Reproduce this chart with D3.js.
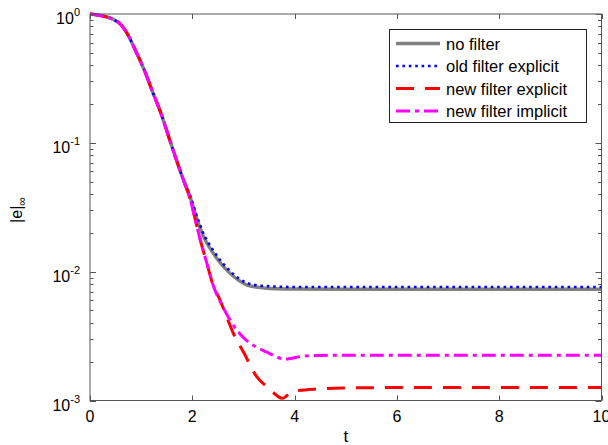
<!DOCTYPE html>
<html><head><meta charset="utf-8">
<script src="https://cdn.jsdelivr.net/npm/d3@7"></script>
<style>body{margin:0;background:#fff}svg{display:block}text{font-family:"Liberation Sans",Arial,sans-serif;fill:#000}</style>
</head><body>
<svg id="c" width="608" height="445"></svg>
<script>
// ---- data ----
const seriesNames = ["no filter", "old filter explicit", "new filter explicit", "new filter implicit"];
const tNoFilter = [0,0.2,0.45,0.6,0.75,0.9,1.075,1.21,1.4,1.56,1.69,1.83,1.955,2.1,2.22,2.41,2.58,2.74,2.9,3.06,3.3,3.52,4,5,6,7,8,9,10];
const eNoFilter = [1,0.975,0.91,0.83,0.68,0.51,0.356,0.257,0.164,0.105,0.0735,0.051,0.0382,0.025,0.0187,0.0139,0.0113,0.0097,0.0086,0.0079,0.00755,0.0074,0.00733,0.0073,0.0073,0.0073,0.0073,0.0073,0.0073];
const tOldExplicit = [0,0.2,0.45,0.6,0.75,0.9,1.075,1.21,1.4,1.56,1.69,1.83,1.955,2.1,2.22,2.41,2.58,2.74,2.9,3.06,3.3,3.52,4,5,6,7,8,9,10];
const eOldExplicit = [1,0.975,0.91,0.83,0.68,0.51,0.356,0.257,0.164,0.105,0.0735,0.0515,0.0392,0.0262,0.0197,0.0146,0.0118,0.0101,0.0089,0.0082,0.0078,0.0077,0.0076,0.0076,0.0076,0.0076,0.0076,0.0076,0.0076];
const tNewExplicit = [0,0.2,0.45,0.6,0.75,0.9,1.075,1.21,1.4,1.56,1.69,1.83,1.955,2.05,2.15,2.28,2.41,2.52,2.66,2.8,3.0,3.26,3.5,3.76,3.95,4.44,4.95,6,7,8,9,10];
const eNewExplicit = [1,0.975,0.91,0.83,0.68,0.51,0.356,0.257,0.164,0.105,0.0735,0.051,0.037,0.0262,0.018,0.0118,0.0078,0.0063,0.0046,0.00334,0.00238,0.00153,0.00124,0.00104,0.00117,0.00123,0.00125,0.00126,0.00126,0.00126,0.00126,0.00126];
const tNewImplicit = [0,0.2,0.45,0.6,0.75,0.9,1.075,1.21,1.4,1.56,1.69,1.83,1.955,2.05,2.15,2.28,2.41,2.58,2.74,2.9,3.07,3.25,3.46,3.65,3.81,3.95,4.17,4.5,5,6,7,8,9,10];
const eNewImplicit = [1,0.975,0.91,0.83,0.68,0.51,0.356,0.257,0.164,0.105,0.0735,0.051,0.037,0.0262,0.018,0.0118,0.0078,0.0055,0.0042,0.0034,0.0029,0.0026,0.00237,0.00218,0.00209,0.00213,0.00221,0.00224,0.00225,0.00225,0.00225,0.00225,0.00225,0.00225];
const xTicks = [0,2,4,6,8,10];
const yTickExps = [0,-1,-2,-3];
const xLabel = "t";

// ---- layout ----
const svg = d3.select("#c");
const L = 90, R = 601.5, T = 14, B = 400.5;
const x = d3.scaleLinear().domain([0,10]).range([L,R]);
const y = d3.scaleLog().domain([1e-3,1]).range([B,T]);
const axisColor = "#555";

const styles = [
  {color:"#808080", width:3.4, dash:null, cap:"butt"},
  {color:"#0000ff", width:2.6, dash:"2.6,3.8", cap:"butt"},
  {color:"#ff0000", width:3, dash:"18,11", cap:"butt"},
  {color:"#ff00ff", width:3, dash:"14,5,4,5", cap:"butt"}
];
const series = [
  d3.zip(tNoFilter, eNoFilter),
  d3.zip(tOldExplicit, eOldExplicit),
  d3.zip(tNewExplicit, eNewExplicit),
  d3.zip(tNewImplicit, eNewImplicit)
];

svg.append("defs").append("clipPath").attr("id","clip")
  .append("rect").attr("x",L).attr("y",T-2).attr("width",R-L).attr("height",B-T+2);

const line = d3.line().x(d=>x(d[0])).y(d=>y(d[1])).curve(d3.curveMonotoneX);
const g = svg.append("g").attr("clip-path","url(#clip)");
series.forEach((s,i)=>{
  const st = styles[i];
  g.append("path").attr("d", line(s)).attr("fill","none")
    .attr("stroke", st.color).attr("stroke-width", st.width)
    .attr("stroke-dasharray", st.dash).attr("stroke-linecap", st.cap)
    .attr("stroke-linejoin","round");
});

// ---- axes (box with inward ticks) ----
const ax = svg.append("g").attr("stroke",axisColor).attr("stroke-width",1).attr("fill","none");
ax.append("rect").attr("x",L).attr("y",T).attr("width",R-L).attr("height",B-T);
xTicks.forEach(v=>{
  const px = Math.round(x(v))+0.5;
  ax.append("line").attr("x1",px).attr("x2",px).attr("y1",B).attr("y2",B-5);
  ax.append("line").attr("x1",px).attr("x2",px).attr("y1",T).attr("y2",T+5);
});
const yMinor = [];
for (let e=-3;e<0;e++) for (let m=2;m<=9;m++) yMinor.push(m*Math.pow(10,e));
yMinor.forEach(v=>{
  const py = Math.round(y(v))+0.5;
  ax.append("line").attr("x1",L).attr("x2",L+3.5).attr("y1",py).attr("y2",py);
  ax.append("line").attr("x1",R).attr("x2",R-3.5).attr("y1",py).attr("y2",py);
});
yTickExps.forEach(e=>{
  const py = Math.round(y(Math.pow(10,e)))+0.5;
  ax.append("line").attr("x1",L).attr("x2",L+6).attr("y1",py).attr("y2",py);
  ax.append("line").attr("x1",R).attr("x2",R-6).attr("y1",py).attr("y2",py);
});

// tick labels
xTicks.forEach(v=>{
  svg.append("text").attr("x",x(v)).attr("y",B+21).attr("text-anchor","middle")
    .attr("font-size",16).text(v);
});
yTickExps.forEach(e=>{
  const py = y(Math.pow(10,e));
  const t = svg.append("text").attr("x",80).attr("y",py+10).attr("text-anchor","end").attr("font-size",16);
  t.append("tspan").text("10");
  t.append("tspan").attr("font-size",11).attr("dy",-8).text(e===0?"0":"-"+(-e));
});
svg.append("text").attr("x",(L+R)/2).attr("y",442).attr("text-anchor","middle").attr("font-size",17).text(xLabel);
const yl = svg.append("text").attr("transform","translate(22,210) rotate(-90)").attr("text-anchor","middle").attr("font-size",16);
yl.append("tspan").text("|e|");
yl.append("tspan").attr("font-size",12).attr("dy",4).text("∞");

// ---- legend ----
const lg = svg.append("g");
lg.append("rect").attr("x",389.5).attr("y",29.5).attr("width",197).attr("height",93)
  .attr("fill","#fff").attr("stroke","#222").attr("stroke-width",1);
const rowY = [43.5,66,88.5,111];
seriesNames.forEach((n,i)=>{
  const st = styles[i];
  lg.append("line").attr("x1",396).attr("x2",440).attr("y1",rowY[i]).attr("y2",rowY[i])
    .attr("stroke",st.color).attr("stroke-width",st.width).attr("stroke-dasharray",st.dash);
  lg.append("text").attr("x",446).attr("y",rowY[i]+6).attr("font-size",16.5).text(n);
});
</script>
</body></html>
